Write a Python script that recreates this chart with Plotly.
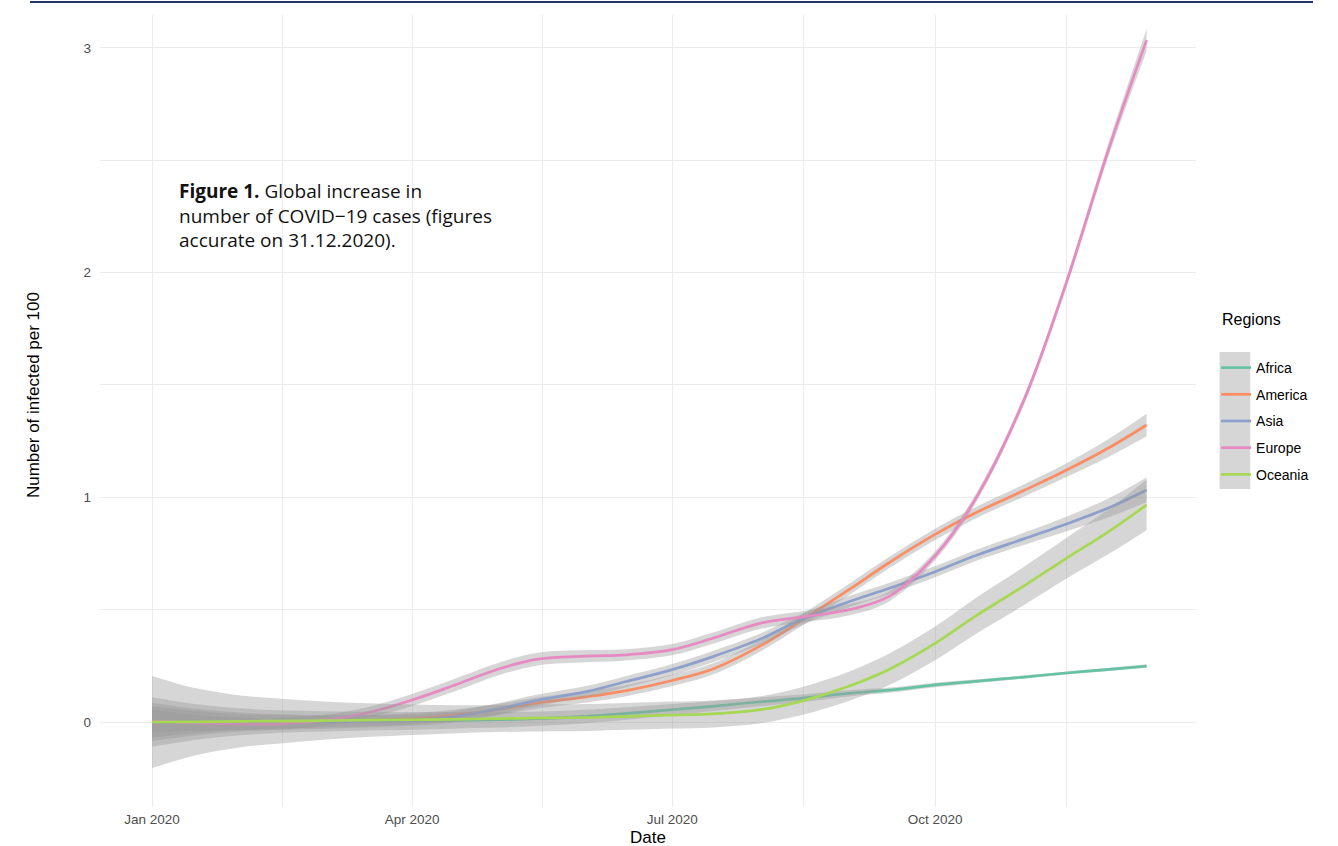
import plotly.graph_objects as go

# ---- data ----
dates = ["2020-01-01", "2020-01-16", "2020-02-01", "2020-02-15", "2020-03-01", "2020-03-16",
         "2020-04-01", "2020-04-15", "2020-05-01", "2020-05-15", "2020-06-01", "2020-06-15",
         "2020-07-01", "2020-07-15", "2020-08-01", "2020-08-15", "2020-09-01", "2020-09-15",
         "2020-10-01", "2020-10-15", "2020-11-01", "2020-11-15", "2020-12-01", "2020-12-14"]

regions = ["Africa", "America", "Asia", "Europe", "Oceania"]

africa = [0.0, 0.0, 0.001, 0.002, 0.003, 0.004, 0.005, 0.007, 0.01, 0.015, 0.025, 0.038,
          0.055, 0.07, 0.09, 0.105, 0.128, 0.142, 0.165, 0.181, 0.2, 0.217, 0.234, 0.249]
america = [0.0, 0.0, 0.0, 0.0, 0.002, 0.006, 0.015, 0.03, 0.055, 0.085, 0.112, 0.14,
           0.185, 0.235, 0.34, 0.45, 0.59, 0.71, 0.835, 0.93, 1.03, 1.115, 1.222, 1.322]
asia = [0.0, 0.0, 0.0, 0.0, 0.0, 0.003, 0.008, 0.022, 0.058, 0.097, 0.135, 0.18,
        0.233, 0.29, 0.37, 0.455, 0.536, 0.595, 0.669, 0.74, 0.815, 0.877, 0.955, 1.033]
europe = [0.004, -0.004, -0.009, -0.008, 0.007, 0.04, 0.098, 0.16, 0.235, 0.28, 0.293, 0.299,
          0.322, 0.372, 0.44, 0.467, 0.5, 0.56, 0.74, 0.99, 1.43, 1.92, 2.56, 3.035]
oceania = [0.0, 0.001, 0.003, 0.004, 0.006, 0.008, 0.01, 0.012, 0.015, 0.018, 0.02, 0.025,
           0.031, 0.036, 0.055, 0.092, 0.16, 0.235, 0.35, 0.47, 0.605, 0.721, 0.85, 0.966]

# half-width of the confidence band
africa_se = [0.11, 0.08, 0.06, 0.05, 0.045, 0.042, 0.04, 0.037, 0.035, 0.032, 0.03, 0.028,
             0.025, 0.022, 0.02, 0.017, 0.014, 0.012, 0.01, 0.008, 0.007, 0.007, 0.007, 0.008]
america_se = [0.07, 0.05, 0.035, 0.03, 0.027, 0.025, 0.025, 0.025, 0.025, 0.025, 0.025, 0.025,
              0.025, 0.025, 0.025, 0.025, 0.025, 0.025, 0.025, 0.025, 0.027, 0.03, 0.04, 0.05]
asia_se = [0.085, 0.06, 0.042, 0.035, 0.03, 0.028, 0.025, 0.025, 0.025, 0.025, 0.025, 0.025,
           0.025, 0.025, 0.025, 0.025, 0.025, 0.025, 0.025, 0.025, 0.027, 0.032, 0.042, 0.055]
europe_se = [0.05, 0.035, 0.028, 0.025, 0.025, 0.025, 0.027, 0.028, 0.028, 0.028, 0.027, 0.025,
             0.025, 0.025, 0.025, 0.025, 0.025, 0.022, 0.02, 0.02, 0.02, 0.022, 0.03, 0.05]
oceania_se = [0.205, 0.15, 0.115, 0.1, 0.085, 0.075, 0.068, 0.063, 0.06, 0.06, 0.06, 0.06,
              0.06, 0.06, 0.06, 0.062, 0.065, 0.07, 0.075, 0.08, 0.085, 0.09, 0.1, 0.112]

values = [africa, america, asia, europe, oceania]
ses = [africa_se, america_se, asia_se, europe_se, oceania_se]
colors = ["#66C2A5", "#FC8D62", "#8DA0CB", "#E78AC3", "#A6D854"]

major_x = ["2020-01-01", "2020-04-01", "2020-07-01", "2020-10-01"]
major_x_labels = ["Jan 2020", "Apr 2020", "Jul 2020", "Oct 2020"]
minor_x = ["2020-02-15 12:00", "2020-05-16 12:00", "2020-08-16", "2020-11-16", "2020-12-31"]
major_y = [0, 1, 2, 3]
minor_y = [0.5, 1.5, 2.5]

fig = go.Figure()
for name, vals, se, col in zip(regions, values, ses, colors):
    lower = [v - s for v, s in zip(vals, se)]
    upper = [v + s for v, s in zip(vals, se)]
    fig.add_trace(go.Scatter(x=dates, y=lower, mode="lines", line=dict(width=0, shape="spline"),
                             showlegend=False, legendgroup=name, hoverinfo="skip"))
    fig.add_trace(go.Scatter(x=dates, y=upper, mode="lines", line=dict(width=0, shape="spline"),
                             fill="tonexty", fillcolor="rgba(153,153,153,0.4)",
                             showlegend=False, legendgroup=name, hoverinfo="skip"))
    fig.add_trace(go.Scatter(x=dates, y=vals, mode="lines", name=name, legendgroup=name,
                             line=dict(color=col, width=2.7, shape="spline")))

grid = "#EBEBEB"
axis_font = dict(family="Liberation Sans, Arial, sans-serif", size=13.5, color="#4D4D4D")
fig.update_layout(
    width=1338, height=846,
    margin=dict(l=100, r=142, t=15, b=39),
    paper_bgcolor="white", plot_bgcolor="white",
    font=dict(family="Liberation Sans, Arial, sans-serif", color="black"),
    xaxis=dict(type="date", range=["2019-12-13 19:00", "2020-12-31 07:00"], automargin=False,
               tickmode="array", tickvals=major_x, ticktext=major_x_labels,
               showgrid=True, gridcolor=grid, gridwidth=1.2, zeroline=False, showline=False,
               ticks="", tickfont=axis_font, ticklabelstandoff=2,
               minor=dict(tickvals=minor_x, showgrid=True, gridcolor=grid, gridwidth=0.8, ticks="")),
    yaxis=dict(range=[-0.3783, 3.1468], tickmode="array", tickvals=major_y, automargin=False,
               showgrid=True, gridcolor=grid, gridwidth=1.2, zeroline=False, showline=False,
               ticks="", tickfont=axis_font, ticklabelstandoff=8,
               minor=dict(tickvals=minor_y, showgrid=True, gridcolor=grid, gridwidth=0.8, ticks="")),
    legend=dict(x=1.0183, y=0.5745, xanchor="left", yanchor="top",
                bgcolor="rgba(0,0,0,0)", tracegroupgap=5.5, itemclick=False,
                font=dict(family="Liberation Sans, Arial, sans-serif", size=14, color="black")),
    showlegend=True,
)

title_font = dict(family="Liberation Sans, Arial, sans-serif", size=17, color="black")
# axis titles
fig.add_annotation(text="Date", xref="paper", yref="paper", x=0.5, y=-0.0391,
                   xanchor="center", yanchor="middle", showarrow=False, font=title_font)
fig.add_annotation(text="Number of infected per 100", xref="paper", yref="paper",
                   x=-0.0611, y=0.5202, xanchor="center", yanchor="middle", textangle=-90,
                   showarrow=False, font=title_font)
# grey legend key background
fig.add_shape(type="rect", xref="paper", yref="paper", x0=1.0215, x1=1.0495, y0=0.4015, y1=0.5745,
              fillcolor="#D6D6D6", line=dict(width=0), layer="below")
# legend title
fig.add_annotation(text="Regions", xref="paper", yref="paper", x=1.0219, y=0.6149,
                   xanchor="left", yanchor="middle", showarrow=False,
                   font=dict(family="Liberation Sans, Arial, sans-serif", size=16, color="black"))
# figure caption
fig.add_annotation(text="<b>Figure 1.</b> Global increase in<br>number of COVID\u221219 cases (figures<br>accurate on 31.12.2020).",
                   xref="paper", yref="paper", x=0.0705, y=0.7965, xanchor="left", yanchor="top",
                   align="left", showarrow=False,
                   font=dict(family="Open Sans, Lato, sans-serif", size=19, color="#111111"))
# top rule
fig.add_shape(type="line", xref="paper", yref="paper", x0=-0.0639, x1=1.1068, y0=1.0164, y1=1.0164,
              line=dict(color="#23346B", width=2))

fig.write_html("out.html", config={"displayModeBar": False},
               post_script="document.body.style.margin='0px';")
